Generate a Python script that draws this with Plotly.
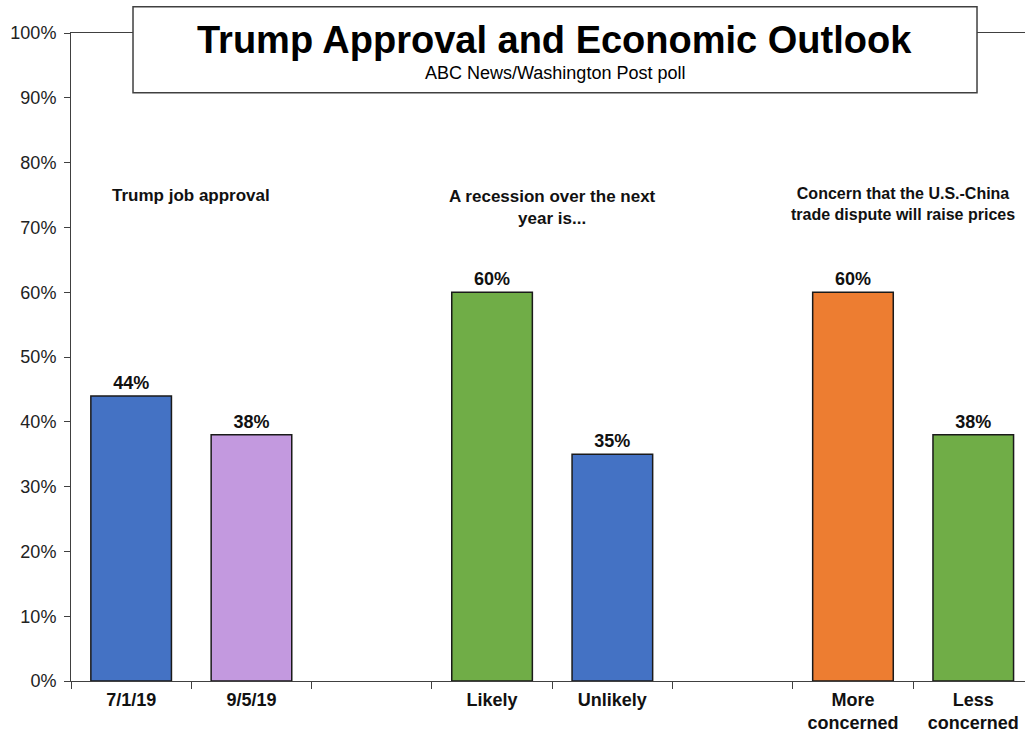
import plotly.graph_objects as go

# Data
slots = [0, 1, 3, 4, 6, 7]
bar_labels = ["7/1/19", "9/5/19", "Likely", "Unlikely", "More<br>concerned", "Less<br>concerned"]
values = [44, 38, 60, 35, 60, 38]
colors = ["#4472C4", "#C399DF", "#70AD47", "#4472C4", "#ED7D31", "#70AD47"]
group_titles = ["Trump job approval",
                "A recession over the next<br>year is...",
                "Concern that the U.S.-China<br>trade dispute will raise prices"]
group_centers = [0.5, 3.5, 6.42]
group_y = [75.0, 73.0, 73.6]
group_sizes = [17, 17, 16]
y_ticks = list(range(0, 101, 10))
y_ticklabels = [f"{v}%" for v in y_ticks]

FONT = "Liberation Sans, Arial, sans-serif"

fig = go.Figure()
fig.add_trace(go.Bar(
    x=slots, y=values,
    marker=dict(color=colors, line=dict(color="#1a1a1a", width=1.5)),
    width=0.67,
    text=[f"{v}%" for v in values],
    textposition="outside",
    textfont=dict(family=FONT, size=18, color="#111"),
    texttemplate="<b>%{text}</b>",
    cliponaxis=False,
    hoverinfo="skip",
))

annotations = []
for t, c, gy, gs in zip(group_titles, group_centers, group_y, group_sizes):
    annotations.append(dict(x=c, y=gy, xref="x", yref="y", text=f"<b>{t}</b>",
                            showarrow=False, font=dict(family=FONT, size=gs, color="#111"),
                            align="center", yanchor="middle"))

annotations.append(dict(x=0.507, y=0.9896, xref="paper", yref="paper",
                        text="<b>Trump Approval and Economic Outlook</b>", showarrow=False,
                        yanchor="middle",
                        font=dict(family=FONT, size=38, color="#000")))
annotations.append(dict(x=0.507, y=0.9387, xref="paper", yref="paper",
                        text="ABC News/Washington Post poll", showarrow=False,
                        yanchor="middle",
                        font=dict(family=FONT, size=18, color="#000")))

fig.update_layout(
    width=1025, height=733,
    margin=dict(l=71, r=0, t=33, b=52),
    plot_bgcolor="white", paper_bgcolor="white",
    showlegend=False,
    annotations=annotations,
    shapes=[dict(type="rect", xref="paper", yref="paper",
                 x0=0.065, x1=0.9497, y0=0.9077, y1=1.0406,
                 line=dict(color="#404040", width=1.5), fillcolor="white", layer="above")],
    xaxis=dict(
        range=[-0.5, 7.43],
        automargin=False,
        tickmode="array", tickvals=slots, ticktext=[f"<b>{l}</b>" for l in bar_labels],
        ticks="", showgrid=False, zeroline=False,
        showline=True, linecolor="#404040", linewidth=1, mirror=True,
        tickfont=dict(family=FONT, size=18, color="#111"),
        ticklabelstandoff=2,
        minor=dict(tickmode="linear", tick0=-0.5, dtick=1, ticks="outside",
                   ticklen=7, tickcolor="#404040", tickwidth=1, showgrid=False),
    ),
    yaxis=dict(
        range=[0, 100],
        automargin=False,
        tickmode="array", tickvals=y_ticks, ticktext=y_ticklabels,
        ticks="outside", ticklen=6, tickcolor="#404040",
        showgrid=False, zeroline=False,
        showline=True, linecolor="#404040", linewidth=1,
        ticklabelstandoff=4,
        tickfont=dict(family=FONT, size=18, color="#222"),
    ),
)

fig.write_html("out.html")
